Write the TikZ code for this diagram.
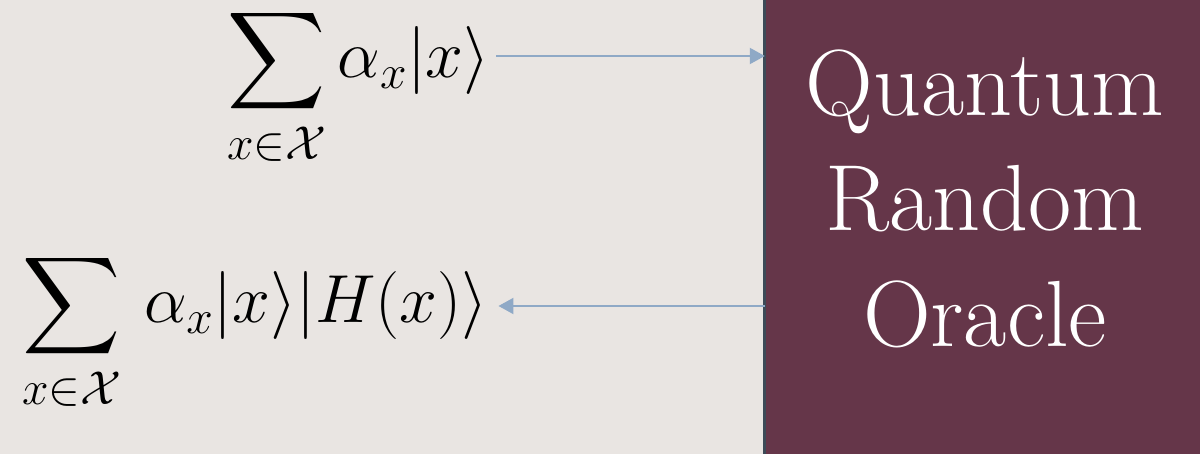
\documentclass[tikz,border=0pt]{standalone}
\usepackage{fix-cm}
\usepackage{amsmath,amssymb}
\usepackage{xcolor}
\usepackage{tikz}
\usetikzlibrary{arrows.meta, positioning, calc}
\definecolor{slidegray}{RGB}{233, 229, 226}
\definecolor{oraclemaroon}{RGB}{101, 54, 73}
\definecolor{oracleedge}{RGB}{60, 74, 87}
\definecolor{querysteel}{RGB}{143, 169, 198}

\begin{document}
\begin{tikzpicture}[
    x=1pt, y=-1pt,
    state/.style={inner sep=0pt, anchor=base west, font=\fontsize{68}{80}\selectfont},
    oracle/.style={rectangle, draw=none, fill=oraclemaroon, 
                   minimum width=435pt, minimum height=454pt, inner sep=0pt},
    oraclename/.style={align=center, text=white, inner sep=0pt, 
                       font=\fontsize{94}{116}\selectfont},
    query/.style={-{Triangle[length=15pt, width=16pt]}, line width=2pt, draw=querysteel}
]
    \path[use as bounding box, fill=slidegray] (0,0) rectangle (1200,454);

    % Oracle box
    \node[oracle] (oracle) at (982.5,227) {};
    \draw[oracleedge, line width=3pt] (oracle.north west) -- (oracle.south west);
    \node[oraclename, anchor=base] (name) at (985,347) {Quantum\\Random\\Oracle};

    % States
    \node[state] (input) at (227,78) {$\displaystyle\sum_{x\in\mathcal{X}}\alpha_x|x\rangle$};
    \node[state] (output) at (22,323) {$\displaystyle\sum_{x\in\mathcal{X}}\mkern3mu\alpha_x|x\rangle|H(x)\rangle$};

    % Arrows
    \coordinate (inaxis) at ([xshift=6pt, yshift=22pt]input.base east);
    \coordinate (outaxis) at ([xshift=10pt, yshift=17pt]output.base east);
    \draw[query] (inaxis) -- (inaxis -| oracle.west);
    \draw[query] (outaxis -| oracle.west) -- (outaxis);
\end{tikzpicture}
\end{document}
